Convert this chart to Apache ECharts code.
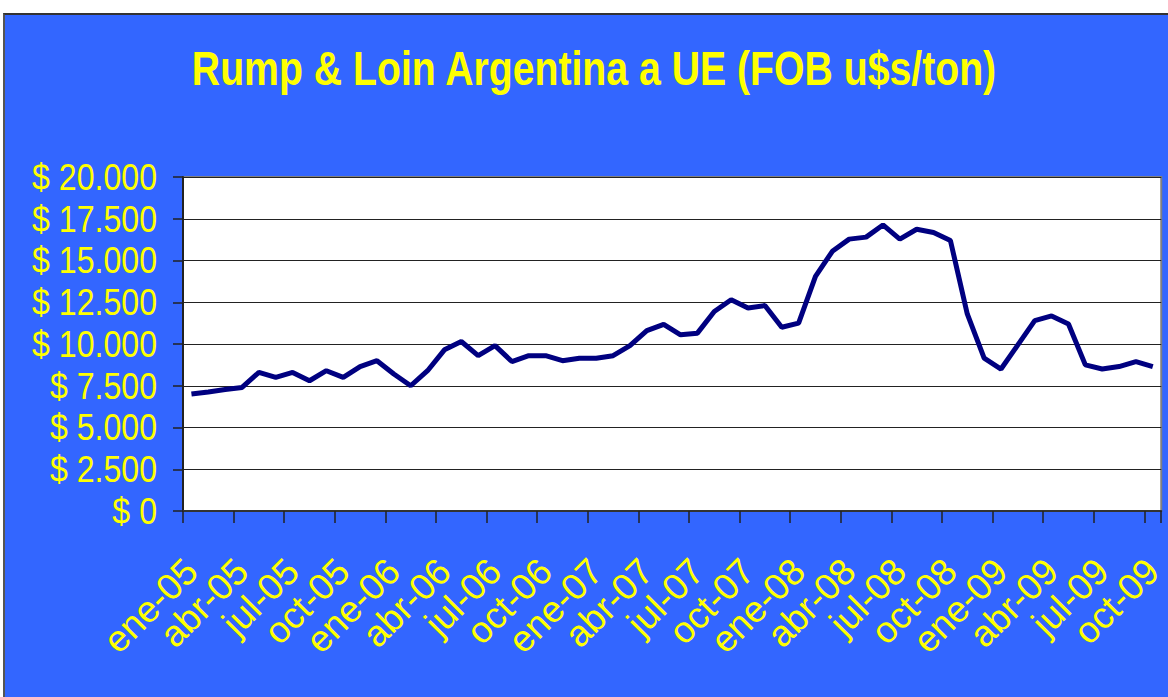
<!DOCTYPE html>
<html>
<head>
<meta charset="utf-8">
<script src="https://cdn.jsdelivr.net/npm/echarts@6/dist/echarts.min.js"></script>
<style>
  html, body { margin: 0; padding: 0; background: #fff; }
  .frame {
    position: absolute; left: 3px; top: 13px; right: 0; bottom: 0;
    background: #3366ff;
    border-top: 2px solid #333; border-left: 2px solid #555;
  }
  #chart { position: absolute; left: 0; top: 0; width: 1168px; height: 697px; }
</style>
</head>
<body>
<div class="frame"></div>
<div id="chart"></div>
<script>
// meses ene-05 .. oct-09
const months = [
  'ene-05', 'feb-05', 'mar-05', 'abr-05', 'may-05', 'jun-05', 'jul-05', 'ago-05', 'sep-05', 'oct-05', 'nov-05', 'dic-05',
  'ene-06', 'feb-06', 'mar-06', 'abr-06', 'may-06', 'jun-06', 'jul-06', 'ago-06', 'sep-06', 'oct-06', 'nov-06', 'dic-06',
  'ene-07', 'feb-07', 'mar-07', 'abr-07', 'may-07', 'jun-07', 'jul-07', 'ago-07', 'sep-07', 'oct-07', 'nov-07', 'dic-07',
  'ene-08', 'feb-08', 'mar-08', 'abr-08', 'may-08', 'jun-08', 'jul-08', 'ago-08', 'sep-08', 'oct-08', 'nov-08', 'dic-08',
  'ene-09', 'feb-09', 'mar-09', 'abr-09', 'may-09', 'jun-09', 'jul-09', 'ago-09', 'sep-09', 'oct-09'
];

// FOB u$s/ton
const prices = [
  7000, 7130, 7270, 7400, 8300, 8000, 8300, 7800, 8400, 8000, 8650, 9000,
  8200, 7500, 8400, 9650, 10150, 9300, 9900, 8950, 9300, 9300, 9000, 9150,
  9150, 9300, 9900, 10800, 11180, 10550, 10650, 11950, 12650, 12150, 12300, 11000,
  11250, 14050, 15550, 16280, 16400, 17130, 16280, 16870, 16680, 16200, 11800, 9150,
  8500, 9950, 11400, 11680, 11200, 8750, 8500, 8650, 8950, 8650
];

const yTicks = [0, 2500, 5000, 7500, 10000, 12500, 15000, 17500, 20000];
const titleText = 'Rump & Loin Argentina a UE (FOB u$s/ton)';
const labelEvery = 3; // one label per quarter

const fmtMoney = v => '$ ' + String(v).replace(/\B(?=(\d{3})+(?!\d))/g, '.');

const chart = echarts.init(document.getElementById('chart'), null, { renderer: 'svg' });

const titleGraphic = {
  id: 'title',
  type: 'text',
  x: 594,
  y: 68,
  scaleX: 0.817,
  style: {
    text: titleText,
    fill: '#ffff00',
    font: 'bold 48px "Liberation Sans", Arial, sans-serif',
    textAlign: 'center',
    textVerticalAlign: 'middle'
  }
};

chart.setOption({
  backgroundColor: 'transparent',
  animation: false,
  graphic: [titleGraphic],
  grid: {
    left: 183, top: 177, width: 979, height: 334,
    show: true,
    backgroundColor: '#fff',
    borderColor: '#808080',
    borderWidth: 2
  },
  xAxis: {
    type: 'category',
    data: months,
    boundaryGap: true,
    axisLine: { lineStyle: { color: '#333', width: 2 } },
    axisTick: { show: true, interval: labelEvery - 1, length: 12, inside: false, lineStyle: { color: '#222', width: 1.5 } },
    axisLabel: {
      // interval 0 keeps echarts from dropping labels next to the first/last one
      interval: 0,
      formatter: (val, idx) => (idx % labelEvery === 0 ? val : ''),
      rotate: 45,
      margin: 54,
      color: '#ffff00',
      fontFamily: '"Liberation Sans", Arial, sans-serif',
      fontSize: 37,
      lineHeight: 28
    },
    splitLine: { show: false }
  },
  yAxis: {
    type: 'value',
    min: yTicks[0],
    max: yTicks[yTicks.length - 1],
    interval: yTicks[1] - yTicks[0],
    axisLine: { show: true, lineStyle: { color: '#222', width: 2 } },
    axisTick: { show: true, length: 10, lineStyle: { color: '#222', width: 1.5 } },
    // labels drawn below as narrowed text (no condensed font installed)
    axisLabel: { show: false },
    splitLine: { lineStyle: { color: '#222', width: 1 } }
  },
  series: [{
    name: 'Rump & Loin',
    type: 'line',
    data: prices,
    showSymbol: false,
    lineStyle: { color: '#000080', width: 5 },
    itemStyle: { color: '#000080' }
  }]
});

// y labels placed through the axis scale
const yLabels = yTicks.map((v, i) => ({
  id: 'ylab' + i,
  type: 'text',
  x: 157,
  y: chart.convertToPixel({ yAxisIndex: 0 }, v),
  scaleX: 0.868,
  style: {
    text: fmtMoney(v),
    fill: '#ffff00',
    font: '37px "Liberation Sans", Arial, sans-serif',
    textAlign: 'right',
    textVerticalAlign: 'middle'
  }
}));

chart.setOption({ graphic: [titleGraphic].concat(yLabels) });
</script>
</body>
</html>
